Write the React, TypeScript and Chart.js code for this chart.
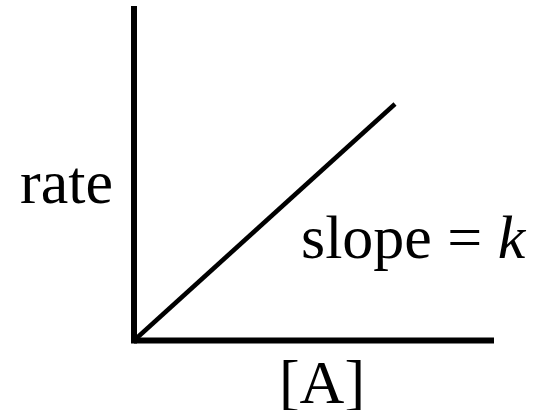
import React, { useEffect, useRef } from "react";
import { Chart, registerables } from "chart.js";

Chart.register(...registerables);

const xAxisLine = [
  { x: 0, y: 0 },
  { x: 10, y: 0 },
];
const yAxisLine = [
  { x: 0, y: -0.09 },
  { x: 0, y: 10 },
];
const rateLine = [
  { x: 0, y: 0 },
  { x: 7.25, y: 7.07 },
];
const yLabel = "rate";
const xLabel = "[A]";
const slopeLabel = "slope = ";
const slopeSymbol = "k";

const FONT = '"Liberation Serif", "Times New Roman", serif';
const SIZE = 62;

const labelPlugin = {
  id: "labels",
  afterDraw(chart: any) {
    const { ctx } = chart;
    ctx.save();
    ctx.fillStyle = "#000";
    ctx.textBaseline = "alphabetic";
    ctx.font = `${SIZE}px ${FONT}`;
    // rate
    ctx.textAlign = "left";
    ctx.fillText(yLabel, 20, 203);
    // [A]
    ctx.textAlign = "center";
    ctx.fillText(xLabel, 322, 403);
    // slope = k
    ctx.textAlign = "left";
    const sx = 301;
    ctx.fillText(slopeLabel, sx, 258);
    const w = ctx.measureText(slopeLabel).width;
    ctx.font = `italic ${SIZE}px ${FONT}`;
    ctx.fillText(slopeSymbol, sx + w, 258);
    ctx.restore();
  },
};

export default function App() {
  const ref = useRef<HTMLCanvasElement | null>(null);
  useEffect(() => {
    if (!ref.current) return;
    const chart = new Chart(ref.current, {
      type: "scatter",
      data: {
        datasets: [
          {
            data: xAxisLine,
            showLine: true,
            borderColor: "#000",
            borderWidth: 6,
            pointRadius: 0,
          },
          {
            data: yAxisLine,
            showLine: true,
            borderColor: "#000",
            borderWidth: 6,
            pointRadius: 0,
          },
          {
            data: rateLine,
            showLine: true,
            borderColor: "#000",
            borderWidth: 4.5,
            pointRadius: 0,
          },
        ],
      },
      options: {
        animation: false,
        responsive: false,
        maintainAspectRatio: false,
        layout: { padding: { left: 134, right: 45, top: 6, bottom: 69.5 } },
        plugins: { legend: { display: false }, tooltip: { enabled: false } },
        scales: {
          x: { type: "linear", min: 0, max: 10, display: false },
          y: { type: "linear", min: 0, max: 10, display: false },
        },
        clip: false as any,
      },
      plugins: [labelPlugin],
    });
    return () => chart.destroy();
  }, []);
  return (
    <div style={{ position: "absolute", left: 0, top: 0, width: 539, height: 410, background: "#fff" }}>
      <canvas ref={ref} width={539} height={410} style={{ width: 539, height: 410 }} />
    </div>
  );
}
